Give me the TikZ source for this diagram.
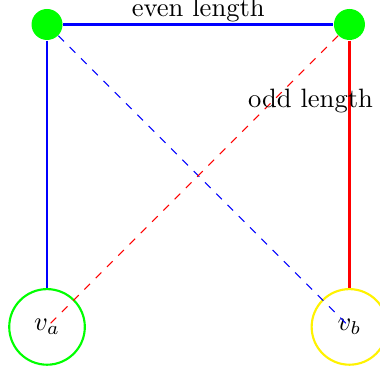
\documentclass[tikz,border=0pt]{standalone}
\begin{document}
\begin{tikzpicture}
\tikzset{
  dot/.style={circle, fill=green, minimum size=4.1mm, inner sep=0pt},
  endnode/.style={circle, draw, thick, minimum size=1cm, inner sep=0pt},
  solidedge/.style={thick},
  dashededge/.style={thin, dashed}
}
\useasboundingbox (-0.622,-0.597) rectangle (4.404,4.324);
\node[dot] (tl) at (0,4) {};
\node[dot] (tr) at (4,4) {};
\node[endnode, draw=green] (va) at (0,0) {$v_a$};
\node[endnode, draw=yellow] (vb) at (4,0) {$v_b$};
\draw[solidedge, blue] (tl) -- (tr);
\draw[solidedge, blue] (tl) -- (va);
\draw[solidedge, red] (tr) -- (vb);
\draw[dashededge, blue] (tl) -- (vb.center);
\draw[dashededge, red] (tr) -- (va.center);
\node[anchor=base, inner sep=0pt] (even) at (2,4.103) {even length};
\node[anchor=base, inner sep=0pt] (odd) at (3.485,2.90) {odd length};
\end{tikzpicture}
\end{document}
